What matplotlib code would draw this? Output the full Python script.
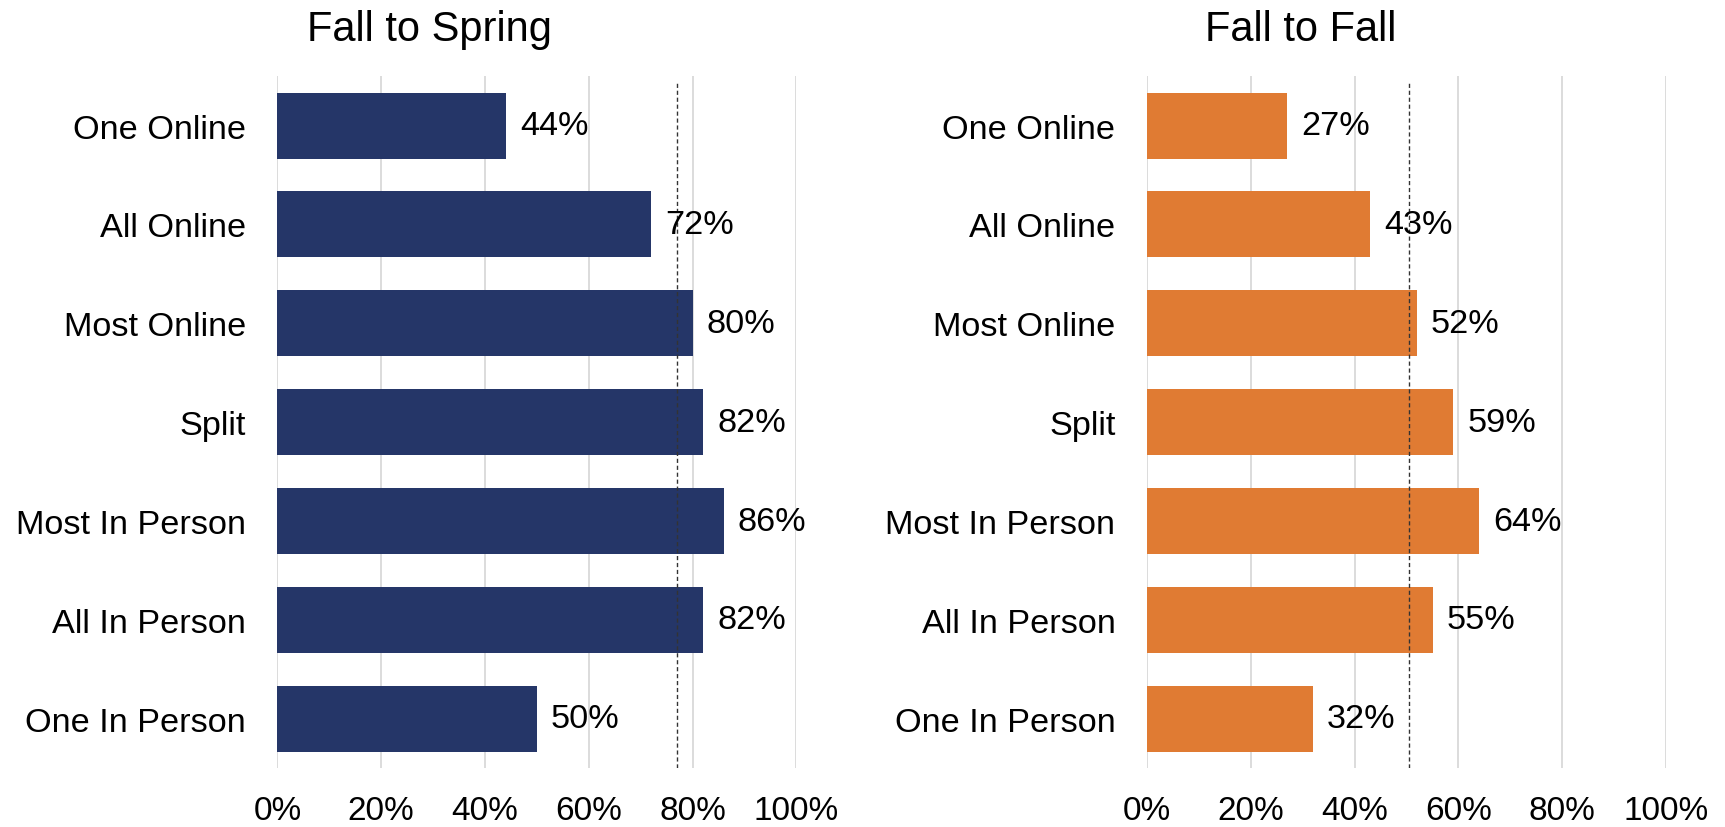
import matplotlib
matplotlib.use("Agg")
import matplotlib.pyplot as plt
from matplotlib.ticker import PercentFormatter

plt.rcParams['font.family'] = ['Liberation Sans', 'DejaVu Sans']

categories = ["One Online", "All Online", "Most Online", "Split",
              "Most In Person", "All In Person", "One In Person"]
spring_values = [44, 72, 80, 82, 86, 82, 50]
fall_values = [27, 43, 52, 59, 64, 55, 32]
spring_ref = 77
fall_ref = 50.5
xticks = [0, 20, 40, 60, 80, 100]

fig = plt.figure(figsize=(17.25, 8.28), dpi=100)
ax1 = fig.add_axes([0.1608, 0.0709, 0.3009, 0.836])
ax2 = fig.add_axes([0.6649, 0.0709, 0.3010, 0.836])

def draw(ax, vals, ref, color):
    y = list(range(len(categories)))
    ax.barh(y, vals, height=0.667, color=color, zorder=3)
    ax.set_ylim(len(categories) - 0.5, -0.5)
    ax.set_xlim(0, 100)
    ax.set_yticks(y)
    ax.set_yticklabels(categories, fontsize=24.7)
    ax.set_xticks(xticks)
    ax.xaxis.set_major_formatter(PercentFormatter(decimals=0))
    ax.tick_params(axis='x', labelsize=24, length=0, pad=19)
    ax.tick_params(axis='y', length=0, pad=22.7)
    for s in ax.spines.values():
        s.set_visible(False)
    ax.grid(axis='x', color='#d9d9d9', linewidth=1.3, zorder=0)
    ax.axvline(ref, ymin=0, ymax=0.99, color='#333333', linestyle=(0, (3, 2)),
               linewidth=1.0, zorder=4)
    for yi, v in zip(y, vals):
        ax.text(v + 2.7, yi, f"{v}%", va='center', ha='left', fontsize=24.7, zorder=5)

draw(ax1, spring_values, spring_ref, '#253668')
draw(ax2, fall_values, fall_ref, '#E07B33')

fig.text(0.249, 0.964, "Fall to Spring", ha='center', va='center', fontsize=30)
fig.text(0.754, 0.964, "Fall to Fall", ha='center', va='center', fontsize=30)

fig.savefig("out.png", dpi=100)
